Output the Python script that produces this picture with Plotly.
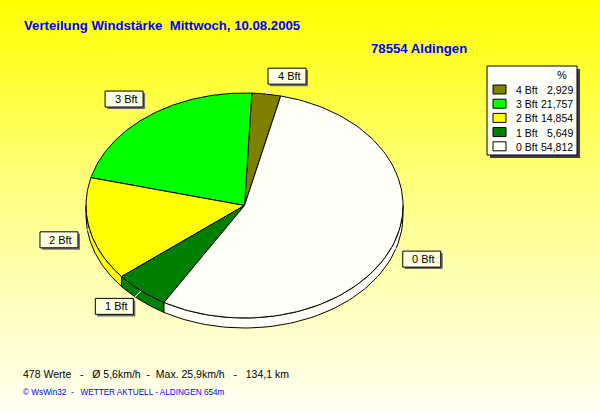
import numpy as np
import plotly.graph_objects as go

# data
labels = ["4 Bft", "3 Bft", "2 Bft", "1 Bft", "0 Bft"]
percent = [2.929, 21.757, 14.854, 5.649, 54.812]
colors = ["#808000", "#00FF00", "#FFFF00", "#008000", "#FFFFF8"]

title = "Verteilung Windstärke  Mittwoch, 10.08.2005"
station = "78554 Aldingen"
info = "478 Werte   -   Ø 5,6km/h  -  Max. 25,9km/h   -   134,1 km"
footer = "© WsWin32  -   WETTER AKTUELL - ALDINGEN 654m"

# pie geometry (pixel space)
cx, cy, rx, ry, depth = 244.5, 205.5, 158.5, 112.5, 10
start = 76.8
FONT = "Arial, Liberation Sans, sans-serif"
BOX_W, BOX_H = 38, 16


def rim(t, dy=0):
    t = np.radians(t)
    return cx + rx * np.cos(t), cy - ry * np.sin(t) + dy


fig = go.Figure()

# background gradient
ys = np.linspace(0, 412, 60)
fig.add_trace(go.Heatmap(x=[0, 600], y=ys, z=[[v, v] for v in ys],
                         colorscale=[[0, "#FFFF00"], [0.45, "#FFFF80"], [1, "#FFFFF4"]],
                         showscale=False, zsmooth="best", hoverinfo="skip"))

total = sum(percent)
bounds = [start]
for p in percent:
    bounds.append(bounds[-1] + p / total * 360)

# side walls (front half only)
for i in range(len(labels)):
    a0, a1 = bounds[i], bounds[i + 1]
    for f0, f1 in [(180, 360), (540, 720)]:
        s0, s1 = max(a0, f0), min(a1, f1)
        if s1 <= s0:
            continue
        t = np.linspace(s0, s1, 60)
        xt, yt = rim(t)
        xb, yb = rim(t[::-1], depth)
        fig.add_trace(go.Scatter(x=np.r_[xt, xb, xt[:1]], y=np.r_[yt, yb, yt[:1]],
                                 fill="toself", fillcolor=colors[i], mode="lines",
                                 line=dict(color="black", width=1), hoverinfo="skip"))

# top faces
for i in range(len(labels)):
    t = np.linspace(bounds[i], bounds[i + 1], 120)
    x, y = rim(t)
    fig.add_trace(go.Scatter(x=np.r_[cx, x, cx], y=np.r_[cy, y, cy],
                             fill="toself", fillcolor=colors[i], mode="lines",
                             line=dict(color="black", width=1), hoverinfo="skip"))

annotations = []
shapes = []
# slice labels with leader lines
for i, lab in enumerate(labels):
    mid = (bounds[i] + bounds[i + 1]) / 2
    m = np.radians(mid)
    px, py = rim(mid)
    lx = cx + (rx + 12) * np.cos(m)
    ly = cy - (ry + 10) * np.sin(m)
    fig.add_trace(go.Scatter(x=[px, lx], y=[py, ly], mode="lines",
                             line=dict(color="white", width=1), hoverinfo="skip"))
    x0 = lx if np.cos(m) > 0 else lx - BOX_W
    y0 = ly - BOX_H if np.sin(m) > 0 else ly
    shapes.append(dict(type="rect", x0=x0 + 2, x1=x0 + BOX_W + 2, y0=y0 + 2, y1=y0 + BOX_H + 2,
                       fillcolor="#707070", line=dict(width=0)))
    shapes.append(dict(type="rect", x0=x0, x1=x0 + BOX_W, y0=y0, y1=y0 + BOX_H,
                       fillcolor="#FFFFE0", line=dict(color="black", width=1)))
    annotations.append(dict(x=x0 + BOX_W / 2 + 2, y=y0 + BOX_H / 2, text=lab,
                            font=dict(family=FONT, size=11, color="black")))

# legend
shapes += [
    dict(type="rect", x0=490, y0=69, x1=580, y1=158, fillcolor="#404040", line=dict(width=0)),
    dict(type="rect", x0=487, y0=66, x1=577, y1=155, fillcolor="#FFFFF8",
         line=dict(color="black", width=1)),
]
annotations.append(dict(x=562, y=75, text="%", font=dict(family=FONT, size=11, color="black")))
for i, lab in enumerate(labels):
    yy = 90 + i * 14.2
    shapes.append(dict(type="rect", x0=493, x1=506, y0=yy - 5, y1=yy + 4,
                       fillcolor=colors[i], line=dict(color="black", width=1)))
    annotations.append(dict(x=514, y=yy, text=lab, xanchor="left",
                            font=dict(family=FONT, size=10.5, color="black")))
    annotations.append(dict(x=575, y=yy, text=f"{percent[i]:.3f}".replace(".", ","),
                            xanchor="right", font=dict(family=FONT, size=10.5, color="black")))

# texts
annotations += [
    dict(x=22, y=25, text="<b>" + title + "</b>", xanchor="left",
         font=dict(family=FONT, size=13.2, color="#0000FF")),
    dict(x=369, y=48, text="<b>" + station + "</b>", xanchor="left",
         font=dict(family=FONT, size=13.2, color="#0000FF")),
    dict(x=21, y=374, text=info, xanchor="left",
         font=dict(family=FONT, size=10.5, color="black")),
    dict(x=21, y=392, text=footer, xanchor="left",
         font=dict(family=FONT, size=8.2, color="#0000FF")),
]
for a in annotations:
    a.update(xref="x", yref="y", showarrow=False)
for s in shapes:
    s.update(xref="x", yref="y")

fig.update_layout(
    width=600, height=412, margin=dict(l=0, r=0, t=0, b=0),
    showlegend=False, paper_bgcolor="#FFFFF0", plot_bgcolor="#FFFFF0",
    xaxis=dict(range=[0, 600], visible=False, fixedrange=True),
    yaxis=dict(range=[412, 0], visible=False, fixedrange=True),
    shapes=shapes, annotations=annotations,
)

fig.write_html("out.html", config={"displayModeBar": False},
               post_script="document.body.style.margin='0';")
